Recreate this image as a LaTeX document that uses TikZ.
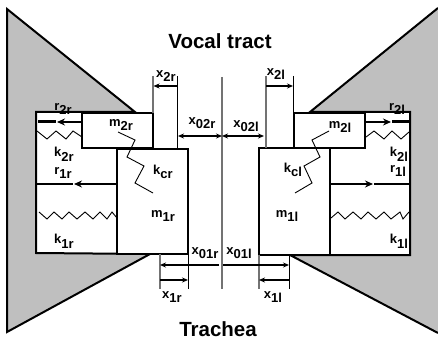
\documentclass[tikz,border=0pt]{standalone}
\usepackage{fontspec}
\setmainfont{Liberation Sans}
\usetikzlibrary{arrows.meta}
\newcommand{\lab}[2]{\bfseries #1\raisebox{-4.6pt}{#2}}
\tikzset{
  lbl/.style={inner sep=0pt,font=\fontsize{13}{13}\selectfont},
  ttl/.style={inner sep=0pt,font=\fontsize{20.5}{21}\selectfont\bfseries},
  wall/.style={draw=black,fill=black!25,line width=2pt,line join=miter},
  mass/.style={draw=black,fill=white,line width=2pt},
  rail/.style={black!55,line width=1.3pt},
  guide/.style={black,line width=1pt},
  dim/.style={black,line width=1.4pt},
  tip/.style={-{Stealth[length=6pt,width=5pt]}},
  tips/.style={{Stealth[length=6pt,width=5pt]}-{Stealth[length=6pt,width=5pt]}},
  bigtip/.style={-{Stealth[length=8pt,width=7pt]}},
  spring/.style={black,line width=0.9pt},
  damper/.style={black,line width=2.6pt}
}
\begin{document}
\begin{tikzpicture}[x=1pt,y=-1pt]
        \useasboundingbox (0,0) rectangle (438,339);
        % side walls
        \draw[wall] (7,9)--(135,112)--(36,112)--(36,253)--(150,254)--(7,332)--cycle;
        \fill[black!25] (438,8)--(438,333)--(290,255)--(410,255)--(410,112)--(310,112)--cycle;
        \draw[black,line width=2pt] (438,8)--(310,112)--(410,112)--(410,255)--(290,255)--(438,333);
        % masses
        \draw[mass] (117,149) rectangle (188,254);
        \draw[mass] (82,113) rectangle (153,148);
        \draw[mass] (259,148) rectangle (330,255);
        \draw[mass] (294,113) rectangle (365,148);
        % springs
        \draw[spring] (37,131)--(47,139)--(56,131)--(66,139)--(73,131)--(82,137);
        \draw[spring] (366,137)--(374,131)--(384,139)--(392,131)--(401,139)--(409,132);
        \draw[spring] (39,212)--(47,219)--(54,212)--(62,219)--(69,212)--(77,219)--(85,212)--(93,219)--(100,212)--(107,219)--(112,212)--(117,218);
        \draw[spring] (331,218)--(338,212)--(345,219)--(353,212)--(361,219)--(368,212)--(376,219)--(384,212)--(391,219)--(400,212)--(403,219)--(409,212);
        \draw[spring] (118,132)--(135,140)--(127,157)--(144,166)--(135,183)--(153,193);
        \draw[spring] (329,131)--(312,140)--(320,157)--(304,166)--(312,183)--(295,193);
        % dampers
        \draw[damper,bigtip] (82,122)--(57,122);
        \draw[damper,line width=3pt] (38,122)--(56,122);
        \draw[damper,bigtip] (365,122)--(391,122);
        \draw[damper,line width=3pt] (392,122)--(409,122);
        \draw[damper,bigtip] (117,184)--(74,184);
        \draw[damper] (36,184)--(73,184);
        \draw[damper,bigtip] (330,184)--(373,184);
        \draw[damper] (374,184)--(410,184);
        % guide lines
        \draw[rail] (222,77)--(222,289);
        \draw[rail] (153,76)--(153,113);
        \draw[guide] (177.5,76)--(177.5,149);
        \draw[rail] (266,76)--(266,148);
        \draw[guide] (293,76)--(293,113);
        \draw[rail] (160,254)--(160,289);
        \draw[guide] (188,254)--(188,289);
        \draw[rail] (259,255)--(259,289);
        \draw[guide] (289,255)--(289,289);
        % displacements
        \draw[dim,tip] (177.5,86)--(153.5,86);
        \draw[dim,tip] (266,86)--(293,86);
        \draw[dim,tips] (178,136)--(222,136);
        \draw[dim,tips] (222,136)--(264,136);
        \draw[dim,tip] (219,265)--(160,265);
        \draw[dim,tip] (223,265)--(289,265);
        \draw[dim,tip] (160,280)--(188,280);
        \draw[dim,tip] (289.5,280)--(259,280);
        % labels
        \node[ttl] (vocal) at (220,41) {Vocal tract};
        \node[ttl] (trachea) at (218,329) {Trachea};
        \node[lbl] (x2r) at (166,76) {\lab{x}{2r}};
        \node[lbl] (x02r) at (202,123) {\lab{x}{02r}};
        \node[lbl] (m2r) at (121,125) {\lab{m}{2r}};
        \node[lbl] (r2r) at (63,109) {\lab{r}{2r}};
        \node[lbl] (k2r) at (64,154) {\lab{k}{2r}};
        \node[lbl] (r1r) at (63,173) {\lab{r}{1r}};
        \node[lbl] (kcr) at (163,172) {\lab{k}{cr}};
        \node[lbl] (m1r) at (163,216) {\lab{m}{1r}};
        \node[lbl] (k1r) at (64,241) {\lab{k}{1r}};
        \node[lbl] (x01r) at (205,253) {\lab{x}{01r}};
        \node[lbl] (x1r) at (172,297) {\lab{x}{1r}};
        \node[lbl] (x2l) at (276,74) {\lab{x}{2l}};
        \node[lbl] (x02l) at (246,126) {\lab{x}{02l}};
        \node[lbl] (m2l) at (340,127) {\lab{m}{2l}};
        \node[lbl] (r2l) at (397,109) {\lab{r}{2l}};
        \node[lbl] (k2l) at (399,154) {\lab{k}{2l}};
        \node[lbl] (r1l) at (398,171) {\lab{r}{1l}};
        \node[lbl] (kcl) at (293,170) {\lab{k}{cl}};
        \node[lbl] (m1l) at (287,216) {\lab{m}{1l}};
        \node[lbl] (k1l) at (399,241) {\lab{k}{1l}};
        \node[lbl] (x01l) at (239,253) {\lab{x}{01l}};
        \node[lbl] (x1l) at (273,297) {\lab{x}{1l}};
      \end{tikzpicture}
\end{document}
